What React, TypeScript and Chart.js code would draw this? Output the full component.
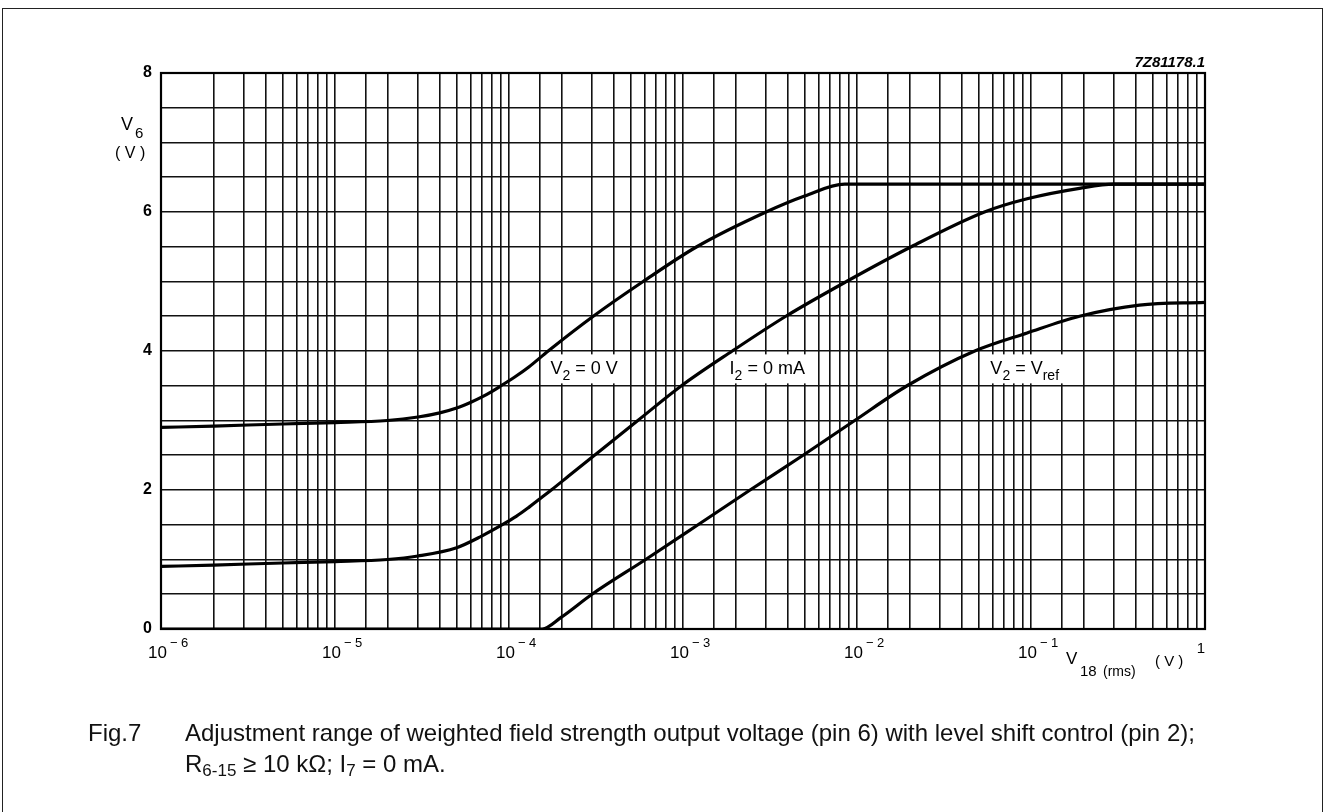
import React, { useEffect, useRef } from "react";
import { Chart, registerables } from "chart.js";

Chart.register(...registerables);

// ---- data ----
const v2ZeroX = [1e-6, 2e-6, 5e-6, 1e-5, 2e-5, 3e-5, 4e-5, 5e-5, 6e-5, 7e-5, 8e-5, 9e-5, 1.1e-4, 1.3e-4, 1.68e-4, 3.05e-4, 5.9e-4, 1.2e-3, 3e-3, 5e-3, 8.5e-3, 1];
const v2ZeroY = [2.9, 2.92, 2.95, 2.97, 3.0, 3.05, 3.11, 3.18, 3.26, 3.34, 3.42, 3.5, 3.64, 3.77, 4.0, 4.5, 5.0, 5.5, 6.0, 6.23, 6.4, 6.4];

const i2ZeroX = [1e-6, 2e-6, 5e-6, 1e-5, 2e-5, 3e-5, 5e-5, 7e-5, 9e-5, 1.1e-4, 1.3e-4, 1.5e-4, 1.75e-4, 2.2e-4, 3.1e-4, 5.5e-4, 9.8e-4, 1.92e-3, 3.9e-3, 8.7e-3, 2.05e-2, 5.4e-2, 9.5e-2, 0.19, 0.3, 1];
const i2ZeroY = [0.9, 0.92, 0.95, 0.97, 1.0, 1.05, 1.17, 1.34, 1.49, 1.62, 1.75, 1.87, 2.0, 2.2, 2.5, 3.0, 3.5, 4.0, 4.5, 5.0, 5.5, 6.0, 6.19, 6.34, 6.4, 6.4];

const v2RefX = [1e-6, 1e-5, 1e-4, 1.55e-4, 2e-4, 3e-4, 6.1e-4, 1.22e-3, 2.43e-3, 4.9e-3, 9.7e-3, 1.94e-2, 4.75e-2, 9.5e-2, 0.19, 0.42, 1];
const v2RefY = [0, 0, 0, 0, 0.17, 0.5, 1.0, 1.5, 2.0, 2.5, 3.0, 3.5, 4.0, 4.26, 4.5, 4.66, 4.7];

const yTickLabels = [0, 2, 4, 6, 8];
const xDecadeExponents = [-6, -5, -4, -3, -2, -1];

const curveLabelNames = ["V", "I", "V"];
const curveLabelSubs = ["2", "2", "2"];
const curveLabelRests = [" = 0 V", " = 0 mA", " = V"];
const curveLabelRestSubs = ["", "", "ref"];
const curveLabelX = [2.7e-4, 3.05e-3, 9.2e-2];
const curveLabelY = [3.75, 3.75, 3.75];

const FONT = '"Liberation Sans", Arial, Helvetica, sans-serif';

function toPoints(xs: number[], ys: number[]) {
  return xs.map((x, i) => ({ x, y: ys[i] }));
}

const drawPlugin = {
  id: "drawExtras",
  beforeDatasetsDraw(chart: any) {
    const { ctx } = chart;
    const xs = chart.scales.x;
    const ys = chart.scales.y;
    ctx.save();
    for (let i = 0; i < curveLabelNames.length; i++) {
      const px = xs.getPixelForValue(curveLabelX[i]);
      const py = ys.getPixelForValue(curveLabelY[i]);
      const base = py + 6;
      const mainFont = `18px ${FONT}`;
      const subFont = `14px ${FONT}`;
      ctx.font = mainFont;
      const w1 = ctx.measureText(curveLabelNames[i]).width;
      ctx.font = subFont;
      const w2 = ctx.measureText(curveLabelSubs[i]).width;
      ctx.font = mainFont;
      const w3 = ctx.measureText(curveLabelRests[i]).width;
      ctx.font = subFont;
      const w4 = curveLabelRestSubs[i] ? ctx.measureText(curveLabelRestSubs[i]).width : 0;
      const total = w1 + w2 + w3 + w4;
      const left = px - total / 2;
      ctx.fillStyle = "#fff";
      ctx.fillRect(left - 6, py - 14, total + 12, 29);
      ctx.fillStyle = "#000";
      ctx.textAlign = "left";
      ctx.textBaseline = "alphabetic";
      let cx = left;
      ctx.font = mainFont;
      ctx.fillText(curveLabelNames[i], cx, base);
      cx += w1;
      ctx.font = subFont;
      ctx.fillText(curveLabelSubs[i], cx, base + 6);
      cx += w2;
      ctx.font = mainFont;
      ctx.fillText(curveLabelRests[i], cx, base);
      cx += w3;
      if (curveLabelRestSubs[i]) {
        ctx.font = subFont;
        ctx.fillText(curveLabelRestSubs[i], cx, base + 6);
      }
    }
    ctx.restore();
  },
  afterDraw(chart: any) {
    const { ctx, chartArea } = chart;
    const xs = chart.scales.x;
    ctx.save();
    // plot frame
    ctx.strokeStyle = "#000";
    ctx.lineWidth = 2.2;
    ctx.strokeRect(chartArea.left, chartArea.top, chartArea.right - chartArea.left, chartArea.bottom - chartArea.top);

    ctx.fillStyle = "#000";
    ctx.textBaseline = "alphabetic";
    // x tick labels
    const b = chartArea.bottom;
    for (const e of xDecadeExponents) {
      const px = xs.getPixelForValue(Math.pow(10, e));
      ctx.font = `17px ${FONT}`;
      ctx.textAlign = "right";
      ctx.fillText("10", px + 6, b + 29);
      ctx.font = `13px ${FONT}`;
      ctx.textAlign = "left";
      ctx.fillText("\u2212", px + 9, b + 18);
      ctx.fillText(String(Math.abs(e)), px + 20, b + 18);
    }
    ctx.font = `15px ${FONT}`;
    ctx.textAlign = "center";
    ctx.fillText("1", xs.getPixelForValue(1) - 4, b + 24);

    // x axis title: V18 (rms) (V)
    ctx.textAlign = "left";
    ctx.font = `17px ${FONT}`;
    ctx.fillText("V", 1066, b + 35);
    ctx.font = `15px ${FONT}`;
    ctx.fillText("18", 1080, b + 47);
    ctx.font = `14px ${FONT}`;
    ctx.fillText("(rms)", 1103, b + 47);
    ctx.font = `15px ${FONT}`;
    ctx.fillText("( V )", 1155, b + 37);

    // y axis title: V6 (V)
    ctx.font = `18px ${FONT}`;
    ctx.fillText("V", 121, 130);
    ctx.font = `15px ${FONT}`;
    ctx.fillText("6", 135, 138);
    ctx.font = `16px ${FONT}`;
    ctx.fillText("( V )", 115, 158);

    // figure code
    ctx.font = `italic bold 15px ${FONT}`;
    ctx.textAlign = "right";
    ctx.fillText("7Z81178.1", chartArea.right, chartArea.top - 6);
    ctx.restore();
  },
};

export default function App() {
  const ref = useRef<HTMLCanvasElement | null>(null);
  useEffect(() => {
    if (!ref.current) return;
    const ds = (label: string, xs: number[], ys: number[]) => ({
      label,
      data: toPoints(xs, ys),
      borderColor: "#000",
      backgroundColor: "#000",
      borderWidth: 3.2,
      pointRadius: 0,
      cubicInterpolationMode: "monotone" as const,
      fill: false,
    });
    const chart = new Chart(ref.current, {
      type: "line",
      data: {
        datasets: [
          ds("V2 = 0 V", v2ZeroX, v2ZeroY),
          ds("I2 = 0 mA", i2ZeroX, i2ZeroY),
          ds("V2 = Vref", v2RefX, v2RefY),
        ],
      },
      options: {
        animation: false,
        responsive: false,
        devicePixelRatio: 1,
        layout: { padding: { top: 73, left: 0, right: 121, bottom: 183 } },
        plugins: { legend: { display: false }, tooltip: { enabled: false } },
        scales: {
          x: {
            type: "logarithmic",
            min: 1e-6,
            max: 1,
            ticks: { display: false, autoSkip: false },
            grid: { color: "#111", lineWidth: 1.6, drawTicks: false },
            border: { display: false },
            afterFit: (s: any) => {
              s.height = 0;
            },
          },
          y: {
            type: "linear",
            min: 0,
            max: 8,
            ticks: {
              stepSize: 0.5,
              autoSkip: false,
              padding: 9,
              color: "#000",
              font: { family: FONT, size: 16, weight: "bold" },
              callback: (v: any) => (yTickLabels.includes(Number(v)) ? String(v) : ""),
            },
            grid: { color: "#111", lineWidth: 1.6, drawTicks: false },
            border: { display: false },
            afterFit: (s: any) => {
              s.width = 161;
            },
          },
        },
      },
      plugins: [drawPlugin],
    });
    return () => chart.destroy();
  }, []);

  return (
    <div style={{ position: "absolute", left: 0, top: 0, width: 1326, height: 812, background: "#fff", overflow: "hidden", fontFamily: FONT }}>
      <div style={{ position: "absolute", left: 2, top: 8, width: 1319, height: 820, border: "1px solid #222" }} />
      <canvas ref={ref} width={1326} height={812} style={{ position: "absolute", left: 0, top: 0, width: 1326, height: 812 }} />
      <div style={{ position: "absolute", left: 88, top: 717, fontSize: 24, lineHeight: "31px", color: "#111", display: "flex" }}>
        <div style={{ width: 97 }}>Fig.7</div>
        <div>
          <div>Adjustment range of weighted field strength output voltage (pin 6) with level shift control (pin 2);</div>
          <div>
            R<sub style={{ fontSize: 17, verticalAlign: "-4px" }}>6-15</sub> ≥ 10 kΩ; I<sub style={{ fontSize: 17, verticalAlign: "-4px" }}>7</sub> = 0 mA.
          </div>
        </div>
      </div>
    </div>
  );
}
